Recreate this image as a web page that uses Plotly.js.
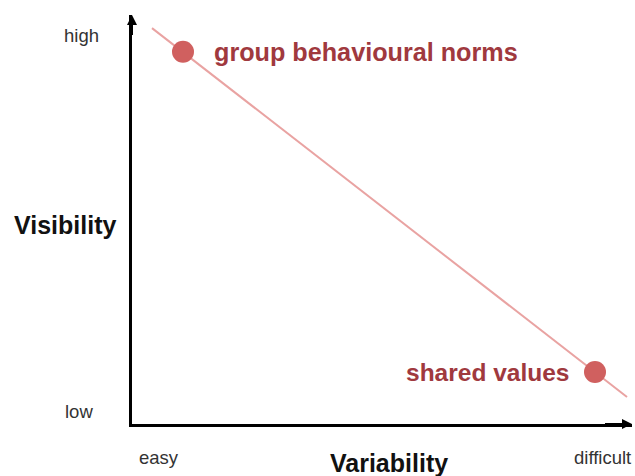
<!DOCTYPE html>
<html>
<head>
<meta charset="utf-8">
<script src="https://cdn.plot.ly/plotly-3.0.1.min.js"></script>
<style>
  html, body { margin: 0; padding: 0; background: #fff; }
  #chart { width: 635px; height: 476px; }
</style>
</head>
<body>
<div id="chart"></div>
<script>
// trend line (variability 0..100, visibility 0..100)
const lineX = [4, 99];
const lineY = [96.8, 6.6];

// the two examples on the line
const pointNames = ["group behavioural norms", "shared values"];
const pointX = [10.2, 92.6];
const pointY = [91, 12.7];

// axis end labels
const yTickText = ["high", "low"];
const yTickVals = [95.1, 3];
const xTickText = ["easy", "difficult"];
const xTickVals = [5.4, 94];

const RED = "#d0605f";
const LABEL_RED = "#a0393e";
const FONT = "Liberation Sans, Arial, sans-serif";

const annotations = [];

pointNames.forEach((name, i) => {
    const left = i === 0;
    annotations.push({
        x: pointX[i], y: pointY[i], xref: "x", yref: "y",
        text: "<b>" + name + "</b>",
        showarrow: false,
        xanchor: left ? "left" : "right",
        xshift: left ? 29 : -24,
        font: { family: FONT, size: left ? 25.2 : 24.5, color: LABEL_RED },
    });
});

yTickText.forEach((t, i) => {
    annotations.push({
        x: 0, y: yTickVals[i], xref: "x", yref: "y",
        text: t, showarrow: false, xanchor: "right", xshift: i === 0 ? -31 : -37,
        font: { family: FONT, size: 18.5, color: "#333" },
    });
});

xTickText.forEach((t, i) => {
    annotations.push({
        x: xTickVals[i], y: 0, xref: "x", yref: "y",
        text: t, showarrow: false, yanchor: "top", yshift: -21,
        font: { family: FONT, size: 18.5, color: "#333" },
    });
});

// arrow tips on the axes
annotations.push({
    x: 0, y: 100, xref: "x", yref: "y", ax: 0, ay: 30,
    showarrow: true, arrowhead: 2, arrowsize: 1, arrowwidth: 2, arrowcolor: "#000",
});
annotations.push({
    x: 100, y: 0, xref: "x", yref: "y", ax: -30, ay: 0,
    showarrow: true, arrowhead: 2, arrowsize: 1, arrowwidth: 2, arrowcolor: "#000",
});

// axis titles
annotations.push({
    x: 0, y: 48.6, xref: "x", yref: "y",
    text: "<b>Visibility</b>", showarrow: false, xanchor: "right", xshift: -14,
    font: { family: FONT, size: 25, color: "#111" },
});
annotations.push({
    x: 51.4, y: 0, xref: "x", yref: "y",
    text: "<b>Variability</b>", showarrow: false, yanchor: "top", yshift: -23,
    font: { family: FONT, size: 25, color: "#111" },
});

Plotly.newPlot("chart", [
    {
        x: lineX, y: lineY,
        mode: "lines", type: "scatter",
        line: { color: "#e9a3a2", width: 2 },
        hoverinfo: "skip",
    },
    {
        x: pointX, y: pointY, text: pointNames,
        mode: "markers", type: "scatter",
        marker: { color: RED, size: 22 },
        hoverinfo: "text",
    },
], {
    width: 635,
    height: 476,
    margin: { l: 132, r: 3, t: 15, b: 52 },
    paper_bgcolor: "#fff",
    plot_bgcolor: "#fff",
    showlegend: false,
    xaxis: {
        range: [0, 100], showgrid: false, zeroline: false, showticklabels: false,
        showline: true, linecolor: "#000", linewidth: 2.5, ticks: "",
    },
    yaxis: {
        range: [0, 100], showgrid: false, zeroline: false, showticklabels: false,
        showline: true, linecolor: "#000", linewidth: 2.5, ticks: "",
    },
    annotations: annotations,
}, { displayModeBar: false });
</script>
</body>
</html>
